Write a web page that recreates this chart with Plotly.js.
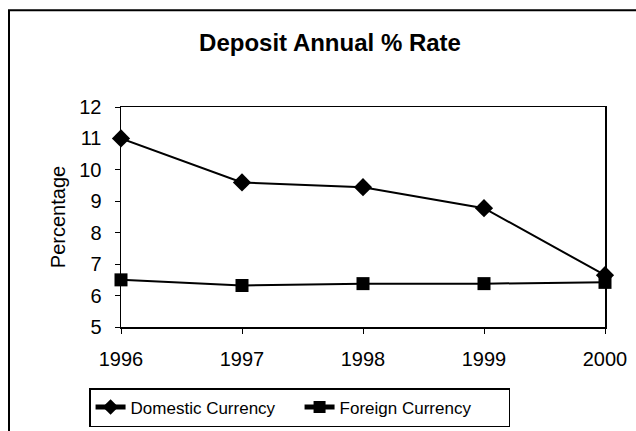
<!DOCTYPE html>
<html>
<head>
<meta charset="utf-8">
<script src="https://cdn.plot.ly/plotly-3.0.1.min.js"></script>
<style>html,body{margin:0;padding:0;background:#fff;}#chart{width:636px;height:431px;}</style>
</head>
<body>
<div id="chart"></div>
<script>
const years = [1996, 1997, 1998, 1999, 2000];
const domestic = [11.0, 9.6, 9.45, 8.78, 6.65];
const foreign = [6.5, 6.32, 6.38, 6.38, 6.42];
const yTicks = [5, 6, 7, 8, 9, 10, 11, 12];

const traces = [
  {x: years, y: domestic, name: 'Domestic Currency', type: 'scatter', mode: 'lines+markers',
   line: {color: '#000', width: 2}, marker: {symbol: 'diamond', size: 14, color: '#000'}, cliponaxis: false},
  {x: years, y: foreign, name: 'Foreign Currency', type: 'scatter', mode: 'lines+markers',
   line: {color: '#000', width: 2}, marker: {symbol: 'square', size: 13, color: '#000'}, cliponaxis: false}
];

const layout = {
  width: 636, height: 431,
  margin: {l: 121, r: 31, t: 107, b: 104, autoexpand: false},
  paper_bgcolor: '#fff', plot_bgcolor: '#fff',
  font: {family: 'Liberation Sans, Arial, sans-serif', color: '#000'},
  title: {text: 'Deposit Annual % Rate', font: {size: 24, family: 'Liberation Sans, Arial, sans-serif', weight: 'bold', color: '#000'},
          x: 330/636, xanchor: 'center', y: 1 - 43/431, yanchor: 'middle'},
  showlegend: true,
  legend: {orientation: 'h', x: -0.066, xanchor: 'left', y: -(427 - 327) / 220, yanchor: 'bottom',
           bordercolor: '#000', borderwidth: 1.5, font: {size: 17}, bgcolor: '#fff',
           itemsizing: 'constant', tracegroupgap: 0, entrywidth: 164, entrywidthmode: 'pixels'},
  xaxis: {range: [1996, 2000], tickvals: years, ticktext: years.map(String), showgrid: false, zeroline: false,
          showline: true, mirror: true, linecolor: '#000', linewidth: 1.5,
          ticks: 'outside', ticklen: 5, tickcolor: '#000', tickfont: {size: 20}, ticklabelstandoff: 8},
  yaxis: {range: [5, 12], tickvals: yTicks, showgrid: false, zeroline: false,
          showline: true, mirror: true, linecolor: '#000', linewidth: 1.5,
          ticks: 'outside', ticklen: 5, tickcolor: '#000', tickfont: {size: 20}, ticklabelstandoff: 9,
          title: {text: 'Percentage', font: {size: 20}, standoff: 8}},
  shapes: [
    {type: 'rect', xref: 'paper', yref: 'paper', x0: -0.2314, x1: 1.08, y0: -0.52, y1: 1.44,
     line: {color: '#000', width: 2}}
  ]
};

Plotly.newPlot('chart', traces, layout, {displayModeBar: false, staticPlot: true});
</script>
</body>
</html>
